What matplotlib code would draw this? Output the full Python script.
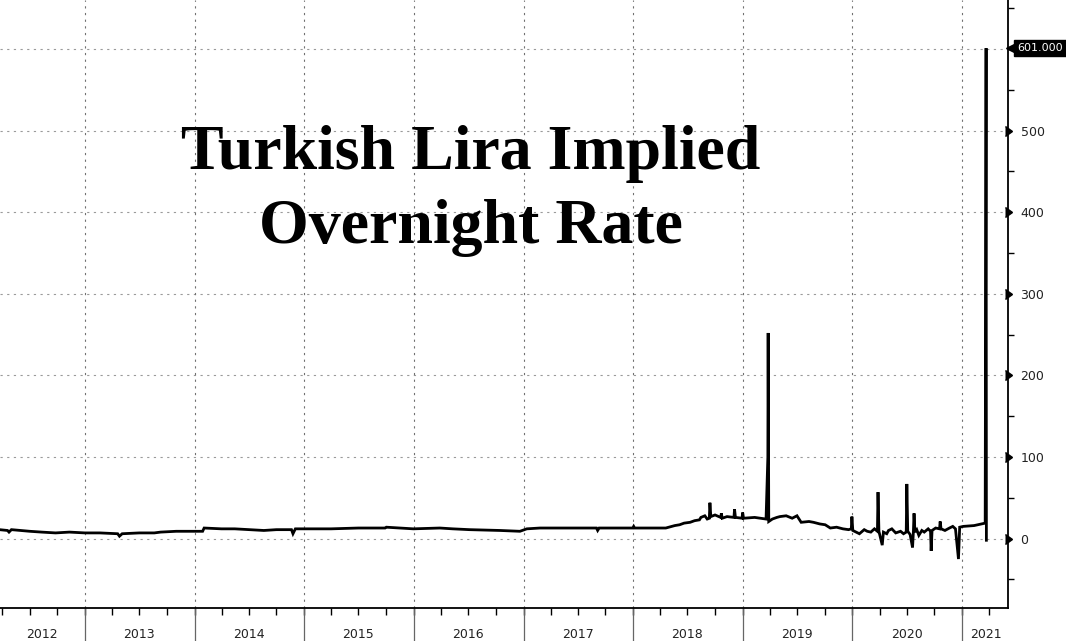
import matplotlib
matplotlib.use('Agg')
import matplotlib.pyplot as plt
import matplotlib.dates as mdates
import numpy as np
import pandas as pd

# implied overnight rate (%)
dates = ['2012-03-22', '2012-04-18', '2012-04-23', '2012-05-01', '2012-06-01',
         '2012-07-01', '2012-08-10', '2012-09-25', '2012-11-10', '2013-01-01',
         '2013-02-20', '2013-04-20', '2013-04-26', '2013-05-05', '2013-07-01',
         '2013-08-20', '2013-09-10', '2013-11-01', '2013-12-20', '2014-01-28',
         '2014-02-02', '2014-04-01', '2014-05-15', '2014-07-01', '2014-08-20',
         '2014-10-01', '2014-11-20', '2014-11-25', '2014-12-03', '2015-02-15',
         '2015-04-01', '2015-07-01', '2015-09-28', '2015-10-02', '2015-12-31',
         '2016-03-28', '2016-05-10', '2016-07-05', '2016-10-15', '2016-12-20',
         '2017-01-12', '2017-02-25', '2017-05-10', '2017-09-01', '2017-09-05',
         '2017-09-10', '2017-12-31', '2018-01-03', '2018-01-06', '2018-04-20',
         '2018-05-10', '2018-05-20', '2018-06-05', '2018-06-20', '2018-07-10',
         '2018-07-25', '2018-08-10', '2018-08-15', '2018-08-28', '2018-09-05',
         '2018-09-12', '2018-09-14', '2018-09-17', '2018-10-01', '2018-10-20',
         '2018-10-22', '2018-10-25', '2018-11-10', '2018-12-03', '2018-12-05',
         '2018-12-08', '2018-12-30', '2019-01-01', '2019-01-04', '2019-02-10',
         '2019-03-20', '2019-03-26', '2019-03-27', '2019-03-29', '2019-04-10',
         '2019-04-25', '2019-05-05', '2019-05-26', '2019-06-15', '2019-07-01',
         '2019-07-15', '2019-08-10', '2019-08-25', '2019-09-15', '2019-10-03',
         '2019-10-20', '2019-11-10', '2019-12-01', '2019-12-20', '2019-12-29',
         '2019-12-31', '2020-01-03', '2020-01-25', '2020-02-10', '2020-02-20',
         '2020-03-03', '2020-03-15', '2020-03-25', '2020-03-27', '2020-03-30',
         '2020-04-10', '2020-04-14', '2020-04-25', '2020-05-01', '2020-05-12',
         '2020-05-25', '2020-06-10', '2020-06-20', '2020-06-29', '2020-07-01',
         '2020-07-04', '2020-07-12', '2020-07-20', '2020-07-23', '2020-07-25',
         '2020-07-28', '2020-08-03', '2020-08-10', '2020-08-20', '2020-08-28',
         '2020-09-10', '2020-09-18', '2020-09-20', '2020-09-23', '2020-10-05',
         '2020-10-18', '2020-10-20', '2020-10-23', '2020-11-05', '2020-11-20',
         '2020-12-01', '2020-12-10', '2020-12-20', '2020-12-24', '2021-01-05',
         '2021-02-10', '2021-03-19', '2021-03-22', '2021-03-23']
rate = [11, 10, 8, 11, 10,
        9, 8, 7, 8, 7,
        7, 6, 3, 6, 7,
        7, 8, 9, 9, 9,
        13, 12, 12, 11, 10,
        11, 11, 6, 12, 12,
        12, 13, 13, 14, 12,
        13, 12, 11, 10, 9,
        12, 13, 13, 13, 10,
        13, 13, 15, 13, 13,
        15, 16, 17, 19, 20,
        22, 23, 26, 28, 24,
        25, 44, 27, 29, 26,
        31, 25, 27, 26, 36,
        26, 25, 32, 25, 26,
        24, 100, 252, 21, 24,
        26, 27, 28, 25, 28,
        20, 21, 20, 18, 17,
        13, 14, 12, 11, 12,
        27, 10, 6, 11, 9,
        8, 12, 9, 57, 9,
        -8, 8, 6, 10, 12,
        7, 9, 6, 8, 67,
        9, 5, -11, 10, 31,
        8, 11, 4, 10, 8,
        12, 9, -15, 10, 13,
        12, 21, 12, 10, 13,
        15, 12, -25, 14, 15,
        16, 19, 601, -2]

yticks = [0, 100, 200, 300, 400, 500]
years = list(range(2012, 2022))

x = pd.to_datetime(dates)

fig = plt.figure(figsize=(10.66, 6.41), dpi=100)
ax = fig.add_axes([0, 33 / 641, 1008 / 1066, 608 / 641])

ax.plot(x, rate, color='black', lw=2.0, solid_joinstyle='miter', zorder=3)

ax.set_xlim(pd.Timestamp('2012-03-24'), pd.Timestamp('2021-06-03'))
ax.set_ylim(-85, 660)

# grid
for v in list(range(-100, 700, 100)):
    ax.axhline(v, color='#9a9a9a', lw=0.8, ls=(0, (2, 4)), zorder=1)
for yr in years[1:]:
    ax.axvline(pd.Timestamp(f'{yr}-01-01'), color='#707070', lw=0.8,
               ls=(0, (2, 4)), zorder=1)

for s in ['left', 'top']:
    ax.spines[s].set_visible(False)
ax.spines['right'].set_linewidth(1.3)
ax.spines['bottom'].set_linewidth(1.3)

# right axis
ax.yaxis.tick_right()
ax.set_yticks(yticks)
ax.set_yticklabels([str(v) for v in yticks], fontsize=9, color='#222222')
ax.set_yticks(np.arange(-50, 700, 50), minor=True)
ax.tick_params(axis='y', which='major', length=0, pad=9)
ax.tick_params(axis='y', which='minor', length=4, width=1, direction='out')
ax.plot([1.004] * len(yticks), yticks, marker=5, ms=7, color='black', ls='none',
        transform=ax.get_yaxis_transform(), clip_on=False)

# bottom axis: quarter ticks, year separators, centered labels
ax.xaxis.set_major_locator(mdates.MonthLocator(bymonth=[1, 4, 7, 10]))
ax.xaxis.set_major_formatter(plt.NullFormatter())
ax.tick_params(axis='x', which='major', length=5, width=1, direction='out')
for yr in years:
    if yr > 2012:
        ax.plot([pd.Timestamp(f'{yr}-01-01')] * 2, [0, -0.06],
                transform=ax.get_xaxis_transform(), color='#666666', lw=0.9,
                clip_on=False)
    mid = max(pd.Timestamp(f'{yr}-07-01'), pd.Timestamp('2012-08-10'))
    if yr == 2021:
        mid = pd.Timestamp('2021-03-20')
    ax.text(mid, -0.043, str(yr), transform=ax.get_xaxis_transform(),
            ha='center', va='center', fontsize=9, color='#222222')

# last value tag
ax.plot([1.004], [601], marker='<', ms=9, color='black',
        transform=ax.get_yaxis_transform(), clip_on=False)
ax.text(1.009, 601, '601.000', transform=ax.get_yaxis_transform(), color='white',
        fontsize=8, va='center', ha='left',
        bbox=dict(boxstyle='square,pad=0.3', fc='black', ec='black'))

fig.text(0.442, 0.702, 'Turkish Lira Implied\nOvernight Rate', ha='center',
         va='center', family='Liberation Serif', weight='bold', fontsize=46,
         linespacing=1.38, color='black')

fig.savefig('out.png', dpi=100, facecolor='white')
